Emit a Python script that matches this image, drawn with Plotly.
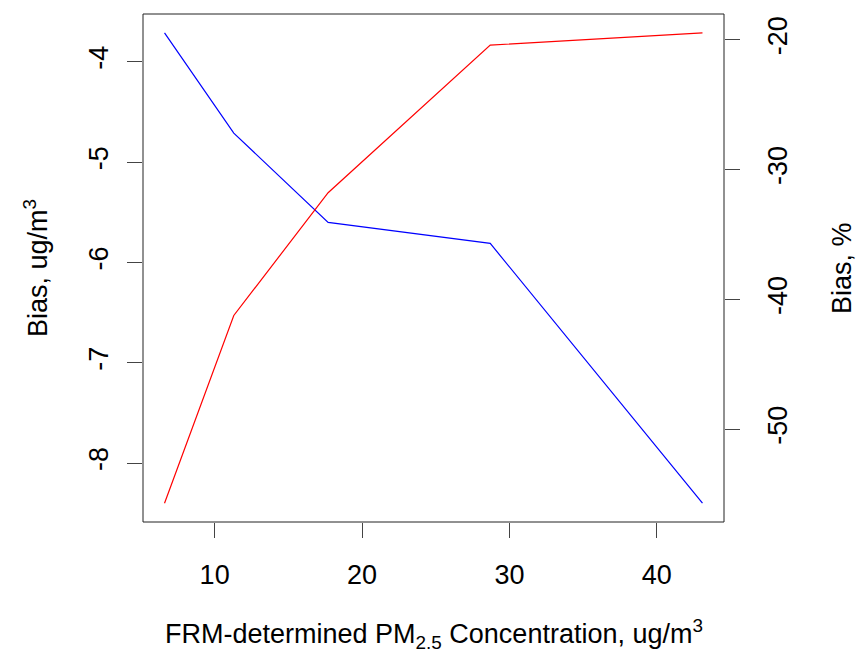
import plotly.graph_objects as go

# Data
conc = [6.6, 11.3, 17.7, 28.7, 43.1]            # FRM-determined PM2.5, ug/m3
bias_ug = [-3.71, -4.71, -5.60, -5.81, -8.40]    # Bias, ug/m3 (blue, left axis)
bias_pct = [-55.7, -41.24, -31.78, -20.41, -19.46]  # Bias, % (red, right axis)

x_ticks = [10, 20, 30, 40]
y_ticks = [-8, -7, -6, -5, -4]
y2_ticks = [-50, -40, -30, -20]


def r_range(v):
    lo, hi = min(v), max(v)
    pad = (hi - lo) * 0.04
    return [lo - pad, hi + pad]


FONT = "Liberation Sans, Arial, sans-serif"
FS = 27

fig = go.Figure()
fig.add_trace(go.Scatter(x=conc, y=bias_ug, mode="lines",
                         line=dict(color="#0000FF", width=1.2), yaxis="y"))
fig.add_trace(go.Scatter(x=conc, y=bias_pct, mode="lines",
                         line=dict(color="#FF0000", width=1.2), yaxis="y2"))

axis_common = dict(showgrid=False, zeroline=False, showline=False,
                   ticks="outside", ticklen=15, tickwidth=1, tickcolor="#444",
                   tickfont=dict(family=FONT, size=FS, color="black"))

fig.update_layout(
    width=857, height=654,
    margin=dict(l=143, r=133, t=14, b=132, pad=0),
    paper_bgcolor="white", plot_bgcolor="white",
    showlegend=False,
    font=dict(family=FONT, size=FS, color="black"),
    xaxis=dict(range=r_range(conc), tickvals=x_ticks, ticktext=[str(t) for t in x_ticks],
               ticklabelstandoff=14, **axis_common),
    yaxis=dict(range=r_range(bias_ug), tickvals=y_ticks, ticktext=[str(t) for t in y_ticks],
               tickangle=-90, ticklabelstandoff=8, **axis_common),
    yaxis2=dict(range=r_range(bias_pct), tickvals=y2_ticks, ticktext=[str(t) for t in y2_ticks],
                tickangle=-90, overlaying="y", side="right", ticklabelstandoff=15,
                **axis_common),
)

# plot box
fig.add_shape(type="rect", xref="paper", yref="paper", x0=0, x1=1, y0=0, y1=1,
              line=dict(color="#222", width=1))

fig.add_annotation(text="FRM-determined PM<sub>2.5</sub> Concentration, ug/m<sup>3</sup>",
                   xref="paper", yref="paper", x=0.5, y=0, yshift=-112, showarrow=False,
                   xanchor="center", yanchor="middle", font=dict(family=FONT, size=FS))
fig.add_annotation(text="Bias, ug/m<sup>3</sup>", textangle=-90,
                   xref="paper", yref="paper", x=0, y=0.5, xshift=-107, showarrow=False,
                   xanchor="center", yanchor="middle", font=dict(family=FONT, size=FS))
fig.add_annotation(text="Bias, %", textangle=-90,
                   xref="paper", yref="paper", x=1, y=0.5, xshift=118, showarrow=False,
                   xanchor="center", yanchor="middle", font=dict(family=FONT, size=FS))

fig.write_html("out.html", config={"displayModeBar": False},
               post_script="document.body.style.margin='0';")
